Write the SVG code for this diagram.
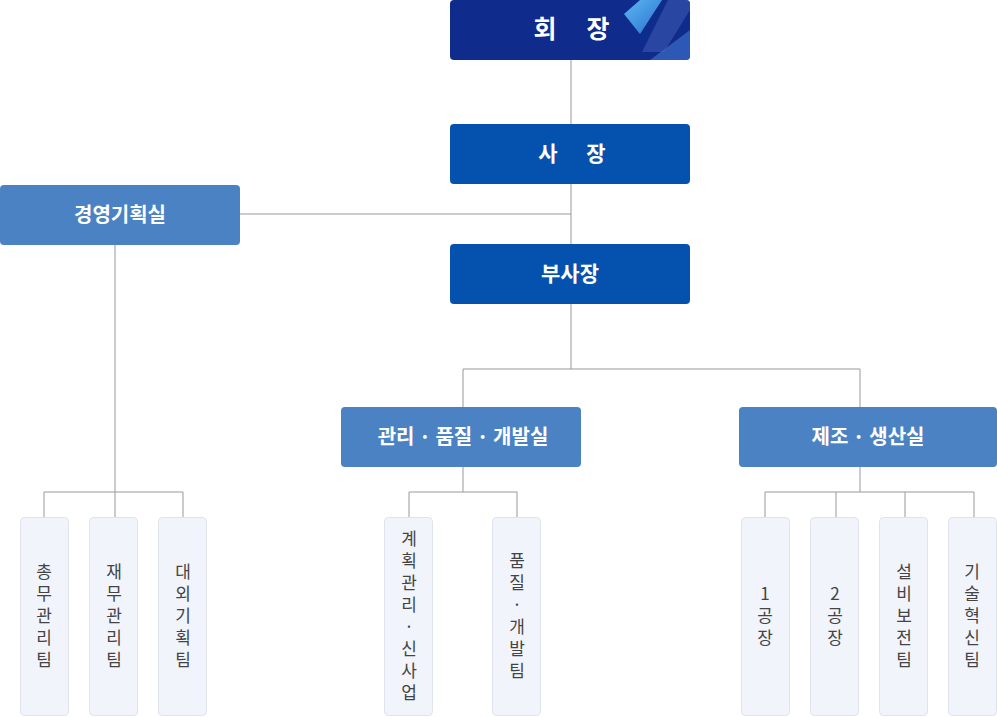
<svg xmlns="http://www.w3.org/2000/svg" width="997" height="717" viewBox="0 0 997 717">
<style>
.ln{stroke:#999;stroke-width:1;fill:none}
.t{font-family:"Noto Sans CJK KR","Noto Sans",sans-serif;font-weight:bold;fill:#fff;text-anchor:middle}
.leaf rect{fill:#f1f4fb;stroke:#dfe3ec;stroke-width:1}
.leaf text{font-family:"Noto Sans CJK KR","Noto Sans",sans-serif;font-size:17px;fill:#444;text-anchor:middle}
.dept{fill:#4a82c4}
.exec{fill:#0452ad}
</style>
<defs>
<linearGradient id="g1" x1="0" y1="0" x2="1" y2="1"><stop offset="0" stop-color="#5ab8f0"/><stop offset="1" stop-color="#2b6fd0"/></linearGradient>
<clipPath id="c1"><rect x="450" y="0" width="240" height="60" rx="4"/></clipPath>
</defs>
<g id="connectors">
<path class="ln" d="M571 60V244M240 214H571M571 303V369M463 369H860M463 369V407M860 369V407"/>
<path class="ln" d="M115 244V492M44 492H183M44 492V517M115 492V517M183 492V517"/>
<path class="ln" d="M463 466V492M409 492H517M409 492V517M517 492V517"/>
<path class="ln" d="M860 466V492M765 492H974M765 492V517M836 492V517M905 492V517M974 492V517"/>
</g>
<g id="chairman">
<rect x="450" y="0" width="240" height="60" rx="4" fill="#0f2b8c"/>
<g clip-path="url(#c1)">
<polygon points="640,0 662,0 640,34 624,14" fill="url(#g1)"/>
<polygon points="668,0 690,0 690,10 664,52 642,52" fill="#2f4fa8" opacity="0.8"/>
<polygon points="690,30 690,60 650,60" fill="#3a6cc8" opacity="0.7"/>
</g>
<text class="t" x="545" y="38" font-size="25">회</text>
<text class="t" x="598" y="38" font-size="25">장</text>
</g>
<g id="president"><rect class="exec" x="450" y="124" width="240" height="60" rx="4"/><text class="t" x="548" y="161" font-size="21">사</text><text class="t" x="596" y="161" font-size="21">장</text></g>
<g id="vp"><rect class="exec" x="450" y="244" width="240" height="60" rx="4"/><text class="t" x="570" y="281" font-size="21">부사장</text></g>
<g id="planning"><rect class="dept" x="0" y="185" width="240" height="60" rx="4"/><text class="t" x="120" y="222" font-size="20">경영기획실</text></g>
<g id="mgmt"><rect class="dept" x="341" y="407" width="240" height="60" rx="4"/><text class="t" x="463" y="444" font-size="20">관리 · 품질 · 개발실</text></g>
<g id="mfg"><rect class="dept" x="739" y="407" width="258" height="60" rx="4"/><text class="t" x="868" y="444" font-size="20">제조 · 생산실</text></g>
<g id="leaf1" class="leaf"><rect x="20.5" y="517.5" width="48" height="198" rx="4"/><text x="44" y="578"><tspan x="44">총</tspan><tspan x="44" dy="22">무</tspan><tspan x="44" dy="22">관</tspan><tspan x="44" dy="22">리</tspan><tspan x="44" dy="22">팀</tspan></text></g>
<g id="leaf2" class="leaf"><rect x="89.5" y="517.5" width="48" height="198" rx="4"/><text x="114" y="578"><tspan x="114">재</tspan><tspan x="114" dy="22">무</tspan><tspan x="114" dy="22">관</tspan><tspan x="114" dy="22">리</tspan><tspan x="114" dy="22">팀</tspan></text></g>
<g id="leaf3" class="leaf"><rect x="158.5" y="517.5" width="48" height="198" rx="4"/><text x="183" y="578"><tspan x="183">대</tspan><tspan x="183" dy="22">외</tspan><tspan x="183" dy="22">기</tspan><tspan x="183" dy="22">획</tspan><tspan x="183" dy="22">팀</tspan></text></g>
<g id="leaf4" class="leaf"><rect x="384.5" y="517.5" width="48" height="198" rx="4"/><text x="409" y="545"><tspan x="409">계</tspan><tspan x="409" dy="22">획</tspan><tspan x="409" dy="22">관</tspan><tspan x="409" dy="22">리</tspan><tspan x="409" dy="22">·</tspan><tspan x="409" dy="22">신</tspan><tspan x="409" dy="22">사</tspan><tspan x="409" dy="22">업</tspan></text></g>
<g id="leaf5" class="leaf"><rect x="492.5" y="517.5" width="48" height="198" rx="4"/><text x="517" y="567"><tspan x="517">품</tspan><tspan x="517" dy="22">질</tspan><tspan x="517" dy="22">·</tspan><tspan x="517" dy="22">개</tspan><tspan x="517" dy="22">발</tspan><tspan x="517" dy="22">팀</tspan></text></g>
<g id="leaf6" class="leaf"><rect x="741.5" y="517.5" width="48" height="198" rx="4"/><text x="765" y="600"><tspan x="765">1</tspan><tspan x="765" dy="22">공</tspan><tspan x="765" dy="22">장</tspan></text></g>
<g id="leaf7" class="leaf"><rect x="810.5" y="517.5" width="48" height="198" rx="4"/><text x="835" y="600"><tspan x="835">2</tspan><tspan x="835" dy="22">공</tspan><tspan x="835" dy="22">장</tspan></text></g>
<g id="leaf8" class="leaf"><rect x="879.5" y="517.5" width="48" height="198" rx="4"/><text x="904" y="578"><tspan x="904">설</tspan><tspan x="904" dy="22">비</tspan><tspan x="904" dy="22">보</tspan><tspan x="904" dy="22">전</tspan><tspan x="904" dy="22">팀</tspan></text></g>
<g id="leaf9" class="leaf"><rect x="948.5" y="517.5" width="48" height="198" rx="4"/><text x="972" y="578"><tspan x="972">기</tspan><tspan x="972" dy="22">술</tspan><tspan x="972" dy="22">혁</tspan><tspan x="972" dy="22">신</tspan><tspan x="972" dy="22">팀</tspan></text></g>
</svg>
